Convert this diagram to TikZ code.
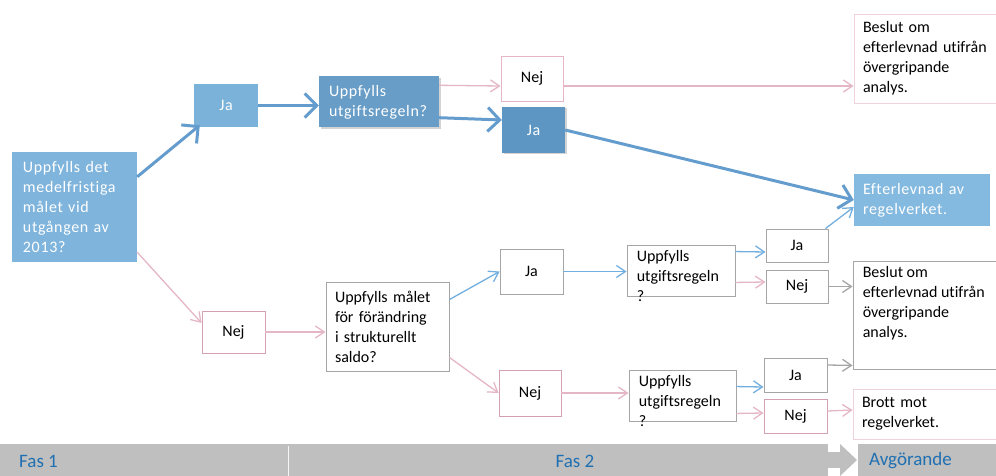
\documentclass[tikz,border=0pt]{standalone}
\usepackage{fontspec}
\setmainfont{Carlito}[Ligatures=NoCommon]
\newfontfamily\wfont{Carlito}[LetterSpace=4, Ligatures=NoCommon]
\usetikzlibrary{arrows.meta,shadows}
\definecolor{qblue}{RGB}{127,180,220}
\definecolor{jblue}{RGB}{122,178,218}
\definecolor{dblue}{RGB}{104,157,199}
\definecolor{ddblue}{RGB}{94,150,195}
\definecolor{eblue}{RGB}{132,185,224}
\definecolor{tblue}{RGB}{100,157,205}
\definecolor{lblue}{RGB}{115,175,222}
\definecolor{pk}{RGB}{228,182,198}
\definecolor{pkbox}{RGB}{214,160,180}
\definecolor{lpk}{RGB}{238,210,220}
\definecolor{gbox}{RGB}{165,165,165}
\definecolor{barg}{RGB}{191,191,191}
\definecolor{fasblue}{RGB}{31,112,178}
\tikzset{
  box/.style={draw=gbox, line width=0.9pt, inner sep=0pt, font=\fontsize{16}{20}\selectfont},
  pbox/.style={box, draw=pkbox},
  lpbox/.style={box, draw=lpk},
  bbox/.style={fill=#1, inner sep=0pt, text=white, font=\wfont\fontsize{16}{20}\selectfont},
  txt/.style={anchor=north west, align=left, inner xsep=10pt, inner ysep=6pt, font=\fontsize{16}{20}\selectfont},
  thk/.style={draw=tblue, line width=3pt, -{Straight Barb[length=12pt,width=24pt,line width=3pt]}},
  bl/.style={draw=lblue, line width=1.3pt, -{Straight Barb[length=9pt,width=12pt]}},
  pl/.style={draw=pk, line width=1.3pt, -{Straight Barb[length=9pt,width=12pt]}},
  gl/.style={draw=gbox, line width=1.3pt, -{Straight Barb[length=9pt,width=12pt]}},
  fas/.style={text=fasblue, inner sep=0pt, font=\fontsize{19}{22}\selectfont}
}
\begin{document}
\begin{tikzpicture}[x=1pt, y=-1pt]
  \useasboundingbox (0,0) rectangle (996,476);

  % fas 1
  \node[bbox=qblue, minimum width=125, minimum height=110, text width=103, align=left] (q1) at (74.5,207)
    {Uppfylls det\\medelfristiga\\målet vid\\utgången av\\2013?};
  \node[bbox=jblue, minimum width=64, minimum height=43] (ja1) at (226,105.5) {Ja};
  \node[pbox, minimum width=63, minimum height=42] (nej1) at (233.5,332) {Nej};

  % fas 2, övre gren
  \node[bbox=dblue, minimum width=120, minimum height=51, text width=100, align=left,
        drop shadow={opacity=0.35, shadow xshift=1.5pt, shadow yshift=-1.5pt}] (q2) at (379,102)
    {Uppfylls\\utgiftsregeln?};
  \node[lpbox, draw=pk, minimum width=62, minimum height=45] (nejA) at (532,78.5) {Nej};
  \node[bbox=ddblue, minimum width=63, minimum height=46,
        drop shadow={opacity=0.35, shadow xshift=1.5pt, shadow yshift=-1.5pt}] (jaA) at (533.5,130) {Ja};

  % fas 2, nedre gren
  \node[box, minimum width=123, minimum height=89, text width=105, align=left] (q3) at (387.5,326.5)
    {Uppfylls målet\\för förändring\\i strukturellt\\saldo?};
  \node[box, minimum width=63, minimum height=45] (ja3) at (531.5,271.5) {Ja};
  \node[pbox, minimum width=62, minimum height=46] (nej3) at (530,393) {Nej};
  \node[box, minimum width=108, minimum height=51,
        label={[txt]north west:Uppfylls\\utgiftsregeln\\?}] (q4) at (681,270.5) {};
  \node[box, minimum width=62, minimum height=33] (ja4) at (797,245.5) {Ja};
  \node[box, minimum width=62, minimum height=33] (nej4) at (797,286.5) {Nej};
  \node[box, minimum width=107, minimum height=51,
        label={[txt]north west:Uppfylls\\utgiftsregeln\\?}] (q5) at (682.5,395.5) {};
  \node[box, minimum width=63, minimum height=34] (ja5) at (795.5,375) {Ja};
  \node[pbox, minimum width=63, minimum height=34] (nej5) at (795.5,416) {Nej};

  % avgörande
  \node[lpbox, minimum width=146, minimum height=89, text width=128, align=left] (beslutA) at (927,58.5)
    {Beslut om\\efterlevnad utifrån\\övergripande\\analys.};
  \node[bbox=eblue, minimum width=136, minimum height=52, text width=118, align=left] (eft) at (922,200)
    {Efterlevnad av\\regelverket.};
  \node[box, minimum width=146, minimum height=108,
        label={[txt]north west:Beslut om\\efterlevnad utifrån\\övergripande\\analys.}] (beslutB) at (926,315) {};
  \node[lpbox, minimum width=146, minimum height=50, text width=128, align=left] (brott) at (926,414)
    {Brott mot\\regelverket.};

  % pilar
  \draw[thk] ([yshift=-25pt]q1.north east) -- ([xshift=6pt,yshift=2pt]ja1.south west);
  \draw[thk] (ja1.east) -- (ja1.east -| q2.west);
  \draw[thk] ([yshift=10pt]q2.south east) -- ([yshift=10pt]jaA.west);
  \draw[thk] (jaA.east) -- (eft.west);
  \draw[pl] ([yshift=-9pt]q2.north east) -- ([yshift=-7.5pt]nejA.west);
  \draw[pl] ([yshift=-7.5pt]nejA.east) -- ([yshift=-27.5pt]beslutA.west);
  \draw[pl] ([yshift=10pt]q1.south east) -- ([yshift=9pt]nej1.west);
  \draw[pl] (nej1.east) -- (nej1.east -| q3.west);
  \draw[bl] ([yshift=-18pt]q3.north east) -- (ja3.west);
  \draw[pl] ([yshift=14pt]q3.south east) -- (nej3.west);
  \draw[bl] (ja3.east) -- (ja3.east -| q4.west);
  \draw[pl] (nej3.east) -- (nej3.east -| q5.west);
  \draw[bl] ([yshift=-7pt]q4.north east) -- ([yshift=-6.5pt]ja4.west);
  \draw[pl] ([yshift=14pt]q4.south east) -- ([yshift=4.5pt]nej4.west);
  \draw[bl] ([xshift=-3pt]ja4.north east) -- ([yshift=-7pt]eft.west);
  \draw[gl] (nej4.east) -- (nej4.east -| beslutB.west);
  \draw[bl] ([yshift=-17pt]q5.north east) -- ([yshift=-12pt]ja5.west);
  \draw[pl] ([yshift=8pt]q5.south east) -- ([yshift=3pt]nej5.west);
  \draw[gl] ([yshift=10pt]ja5.east) -- ([yshift=4pt]beslutB.south west);
  \draw[pl] ([yshift=5pt]nej5.east) -- ([yshift=4pt]brott.west);

  % faser
  \fill[barg] (0,444) rectangle (828,476);
  \fill[barg] (828,452) rectangle (841,468);
  \fill[barg] (840,444) -- (857,460) -- (840,476) -- cycle;
  \fill[barg] (858,444) rectangle (996,476);
  \draw[white!85!barg, line width=1pt] (288,446) -- (288,476);
  \node[fas, anchor=west] (fas1) at (19,461) {Fas 1};
  \node[fas] (fas2) at (575,461) {Fas 2};
  \node[fas, anchor=west] (avg) at (869,461) {Avgörande};
\end{tikzpicture}
\end{document}
